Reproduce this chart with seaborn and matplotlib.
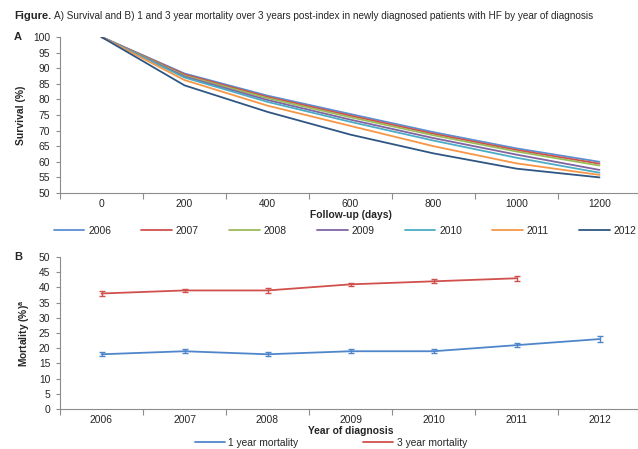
import numpy as np
import pandas as pd
import seaborn as sns
import matplotlib
matplotlib.use("Agg")
import matplotlib.pyplot as plt

sns.set_theme(style="white")
plt.rcParams['font.family'] = ['Liberation Sans', 'DejaVu Sans']
plt.rcParams['mathtext.fontset'] = 'custom'
plt.rcParams['mathtext.bf'] = 'Liberation Sans:bold'
plt.rcParams['mathtext.rm'] = 'Liberation Sans'

# ---------- data ----------
days = ["0", "200", "400", "600", "800", "1000", "1200"]
years = ["2006", "2007", "2008", "2009", "2010", "2011", "2012"]
surv_2006 = [100, 88.3, 81.2, 75.3, 69.5, 64.3, 60.0]
surv_2007 = [100, 88.0, 80.8, 74.8, 69.0, 63.8, 59.4]
surv_2008 = [100, 87.6, 80.4, 74.3, 68.5, 63.3, 58.8]
surv_2009 = [100, 87.3, 79.8, 73.5, 67.6, 62.3, 57.4]
surv_2010 = [100, 87.0, 79.2, 72.8, 66.8, 61.3, 56.5]
surv_2011 = [100, 86.2, 78.0, 71.5, 65.0, 59.5, 55.8]
surv_2012 = [100, 84.5, 76.0, 68.7, 62.7, 57.8, 55.0]
survival = [surv_2006, surv_2007, surv_2008, surv_2009, surv_2010, surv_2011, surv_2012]

diag_years = ["2006", "2007", "2008", "2009", "2010", "2011", "2012"]
mort_1yr = [18, 19, 18, 19, 19, 21, 23]
mort_1yr_err = [0.6, 0.6, 0.7, 0.6, 0.6, 0.6, 0.9]
mort_3yr = [38, 39, 39, 41, 42, 43]
mort_3yr_err = [0.9, 0.6, 0.8, 0.6, 0.7, 0.9]

year_colors = ["#5B8FD1", "#D0504D", "#9BBB59", "#8064A2", "#4BACC6", "#F79646", "#2F5683"]
c1 = "#4F86CB"
c3 = "#D0504D"

title_rest = ("A) Survival and B) 1 and 3 year mortality over 3 years post-index "
              "in newly diagnosed patients with HF by year of diagnosis")

# ---------- figure ----------
W, H = 638, 449
fig = plt.figure(figsize=(W / 100, H / 100), dpi=100)

def frac_box(x0, y0, x1, y1):
    return [x0 / W, 1 - y1 / H, (x1 - x0) / W, (y1 - y0) / H]

axA = fig.add_axes(frac_box(60, 37, 641, 193))
axB = fig.add_axes(frac_box(60, 257, 641, 409))

fs = 7.4
spine_c = "#8C8C8C"

# Panel A
rows = []
for yr, vals in zip(years, survival):
    for i, v in enumerate(vals):
        rows.append({"pos": i, "Year": yr, "Survival": v})
dfA = pd.DataFrame(rows)
sns.lineplot(data=dfA, x="pos", y="Survival", hue="Year", palette=year_colors,
             linewidth=1.3, ax=axA, legend=True, sort=True)
axA.set_xlim(-0.5, len(days) - 0.5)
axA.set_ylim(50, 100)
axA.set_yticks(np.arange(50, 101, 5))
axA.set_xticks(range(len(days)))
axA.set_xticklabels(days)
axA.set_xticks(np.arange(-0.5, len(days), 1.0), minor=True)
axA.set_xlabel("Follow-up (days)", fontsize=fs, fontweight="bold", labelpad=1)
axA.set_ylabel("Survival (%)", fontsize=fs, fontweight="bold", labelpad=5)
handles, labels = axA.get_legend_handles_labels()
axA.get_legend().remove()
fig.legend(handles, labels, loc="center", bbox_to_anchor=(345 / W, 1 - 231 / H),
           ncol=7, frameon=False, fontsize=fs, handlelength=3.0, handletextpad=0.35,
           columnspacing=2.95)

# Panel B
dfB1 = pd.DataFrame({"pos": range(len(mort_1yr)), "Mortality": mort_1yr, "s": "1 year mortality"})
dfB3 = pd.DataFrame({"pos": range(len(mort_3yr)), "Mortality": mort_3yr, "s": "3 year mortality"})
dfB = pd.concat([dfB1, dfB3])
sns.lineplot(data=dfB, x="pos", y="Mortality", hue="s", palette=[c1, c3],
             linewidth=1.3, ax=axB, legend=True)
axB.errorbar(dfB1["pos"], dfB1["Mortality"], yerr=mort_1yr_err, fmt="none",
             ecolor=c1, elinewidth=1, capsize=2, capthick=1)
axB.errorbar(dfB3["pos"], dfB3["Mortality"], yerr=mort_3yr_err, fmt="none",
             ecolor=c3, elinewidth=1, capsize=2, capthick=1)
axB.set_xlim(-0.5, len(diag_years) - 0.5)
axB.set_ylim(0, 50)
axB.set_yticks(np.arange(0, 51, 5))
axB.set_xticks(range(len(diag_years)))
axB.set_xticklabels(diag_years)
axB.set_xticks(np.arange(-0.5, len(diag_years), 1.0), minor=True)
axB.set_xlabel("Year of diagnosis", fontsize=fs, fontweight="bold", labelpad=1)
axB.set_ylabel(r"Mortality (%)$^{\mathbf{a}}$", fontsize=fs, fontweight="bold", labelpad=5)
handles, labels = axB.get_legend_handles_labels()
axB.get_legend().remove()
fig.legend(handles, labels, loc="center", bbox_to_anchor=(331 / W, 1 - 443 / H),
           ncol=2, frameon=False, fontsize=fs, handlelength=2.9, handletextpad=0.35,
           columnspacing=6.3)

for ax in (axA, axB):
    for s in ("top", "right"):
        ax.spines[s].set_visible(False)
    for s in ("left", "bottom"):
        ax.spines[s].set_color(spine_c)
        ax.spines[s].set_linewidth(0.8)
    ax.tick_params(axis="y", which="major", direction="out", length=3, width=0.8,
                   color=spine_c, labelsize=fs, pad=4, left=True)
    ax.tick_params(axis="x", which="major", length=0, labelsize=fs, pad=4, bottom=True)
    ax.tick_params(axis="x", which="minor", direction="out", length=4, width=0.8,
                   color=spine_c, bottom=True)
    ax.grid(False)
    ax.set_facecolor("white")

# Title and panel letters
t1 = fig.text(14 / W, 1 - 16 / H, "Figure.", fontsize=8, fontweight="bold", va="center", ha="left")
fig.canvas.draw()
bb = t1.get_window_extent()
t2 = fig.text((bb.x1 + 3) / W, 1 - 16 / H, title_rest, fontsize=8, va="center", ha="left")
fig.canvas.draw()
w2 = t2.get_window_extent().width
t2.set_fontsize(8 * 544 / w2)
fig.text(14 / W, 1 - 37 / H, "A", fontsize=8, fontweight="bold", va="center")
fig.text(14 / W, 1 - 257 / H, "B", fontsize=8, fontweight="bold", va="center")

fig.savefig("out.png", dpi=100, facecolor="white")
